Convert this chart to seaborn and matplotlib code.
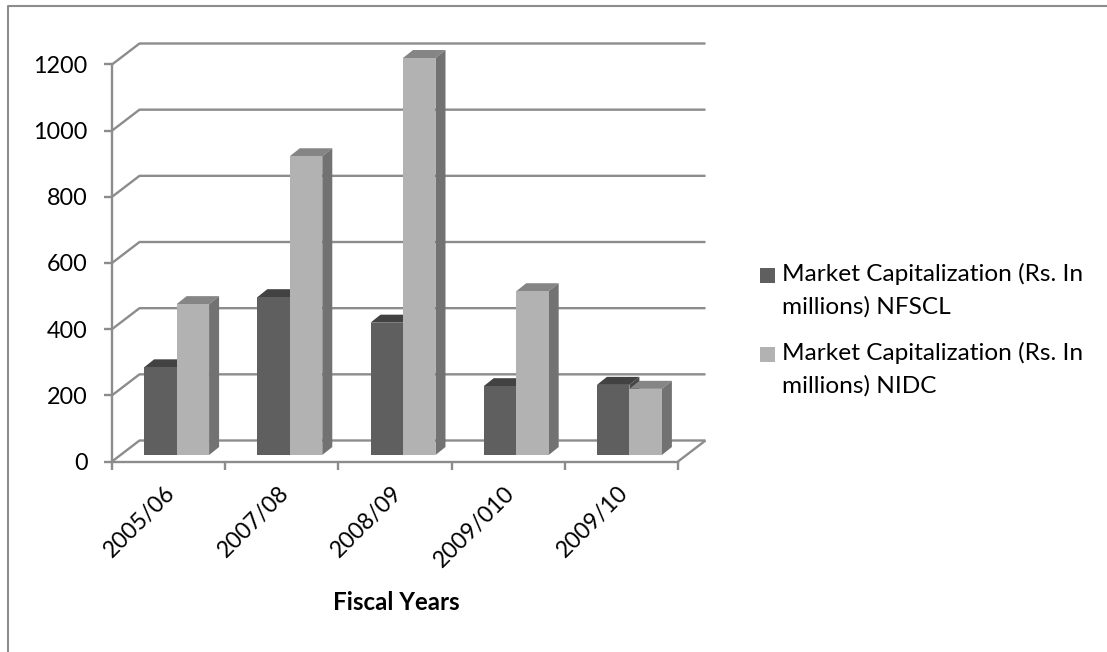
import matplotlib
matplotlib.use("Agg")
import matplotlib.pyplot as plt
import pandas as pd
import seaborn as sns
from matplotlib.lines import Line2D
from matplotlib.patches import Polygon, Rectangle
from matplotlib.transforms import Affine2D

years = ["2005/06", "2007/08", "2008/09", "2009/010", "2009/10"]
nfscl = [265, 477, 400, 208, 212]
nidc = [456, 903, 1200, 495, 200]
y_ticks = [0, 200, 400, 600, 800, 1000, 1200]
name_a = "Market Capitalization (Rs. In\nmillions) NFSCL"
name_b = "Market Capitalization (Rs. In\nmillions) NIDC"

W, H = 1107, 652
GRAY = "#8c8c8c"
FRONT = {name_a: "#5f5f5f", name_b: "#b2b2b2"}
TOP = {name_a: "#424242", name_b: "#858585"}
SIDE = {name_a: "#474747", name_b: "#727272"}

sns.set_theme(style="white")
plt.rcParams["font.family"] = ["Lato", "DejaVu Sans"]

fig = plt.figure(figsize=(W / 100, H / 100), dpi=100, facecolor="white")
left, right, top, bottom = 112, 678, 64.5, 461.5
ax = fig.add_axes([left / W, 1 - bottom / H, (right - left) / W, (bottom - top) / H])
ax.patch.set_alpha(0)

frame = pd.DataFrame({
    "year": years * 2,
    "value": nfscl + nidc,
    "series": [name_a] * len(years) + [name_b] * len(years),
})
sns.barplot(data=frame, x="year", y="value", hue="series", palette=FRONT,
            width=0.574, gap=0, saturation=1, legend=False, ax=ax, zorder=3,
            linewidth=0)
ax.set_xlim(-0.5, len(years) - 0.5)
ax.set_ylim(0, 1200)

# Pixel-to-data scales for the oblique projection.
px_x = (len(years)) / (right - left)
px_y = 1200 / (bottom - top)
wall_dx, wall_dy = 27.5 * px_x, 21 * px_y
bar_ox, bar_oy = 8 * px_x, 6.5 * px_y
depth_x, depth_y = 10 * px_x, 8 * px_y

# Back wall gridlines and the floor outline.
x0, x1 = ax.get_xlim()
line_kw = dict(color=GRAY, lw=1.7, clip_on=False, zorder=1, solid_capstyle="butt")
for v in y_ticks:
    ax.plot([x0, x0 + wall_dx, x1 + wall_dx], [v, v + wall_dy, v + wall_dy], **line_kw)
ax.plot([x1, x1 + wall_dx], [0, wall_dy], **line_kw)

# Extrude each bar: shift the front face, add its top and right side.
for container, name in zip(ax.containers, [name_a, name_b]):
    for bar in container:
        bar.set_x(bar.get_x() + bar_ox)
        bar.set_y(bar_oy)
        bar.set_clip_on(False)
        xa, xb = bar.get_x(), bar.get_x() + bar.get_width()
        ya, yb = bar_oy, bar_oy + bar.get_height()
        order = 2 if name == name_a else 2.6
        bar.set_zorder(order + 0.2)
        ax.add_patch(Polygon([(xa, yb), (xb, yb), (xb + depth_x, yb + depth_y),
                              (xa + depth_x, yb + depth_y)], closed=True,
                             fc=TOP[name], ec="none", clip_on=False, zorder=order))
        ax.add_patch(Polygon([(xb, ya), (xb, yb), (xb + depth_x, yb + depth_y),
                              (xb + depth_x, ya + depth_y)], closed=True,
                             fc=SIDE[name], ec="none", clip_on=False, zorder=order))

for side in ("top", "right"):
    ax.spines[side].set_visible(False)
for side in ("left", "bottom"):
    ax.spines[side].set_color(GRAY)
    ax.spines[side].set_linewidth(1.7)

ax.set_yticks(y_ticks)
ax.tick_params(axis="y", which="major", left=True, length=5.5, width=1.7, color=GRAY,
               labelsize=16.8, labelcolor="black", pad=12)
ax.set_xticks(range(len(years)))
ax.set_xticklabels(years)
ax.set_xticks([i - 0.5 for i in range(len(years) + 1)], minor=True)
ax.tick_params(axis="x", which="major", bottom=False, labelsize=16.6, labelcolor="black", pad=9)
ax.tick_params(axis="x", which="minor", bottom=True, length=5.5, width=1.7, color=GRAY)
for lab in ax.get_xticklabels():
    lab.set_rotation(45)
    lab.set_ha("right")
    lab.set_rotation_mode("anchor")
    lab.set_transform(lab.get_transform() + Affine2D().translate(-4, 0))

ax.set_ylabel("")
ax.set_xlabel("")
fig.text(396 / W, 1 - 602 / H, "Fiscal Years", fontsize=17.4, fontweight="bold",
         ha="center", va="center", color="black")

# Legend: one swatch beside the first line of each two-line label.
legend_rows = [(name_a, 268), (name_b, 347)]
for name, y in legend_rows:
    fig.add_artist(Rectangle((760 / W, 1 - (y + 14.5) / H), 14.5 / W, 14.5 / H,
                             fc=FRONT[name], ec="none", transform=fig.transFigure))
    fig.text(782 / W, 1 - (y - 5) / H, name, fontsize=17.6, linespacing=1.6,
             ha="left", va="top", color="black")

# Outer chart frame along the top and left edges.
fig.add_artist(Line2D([8 / W, 8 / W, 1], [0, 1 - 6 / H, 1 - 6 / H], color=GRAY, lw=1.5,
                      transform=fig.transFigure))

fig.savefig("out.png", dpi=100, facecolor="white")
